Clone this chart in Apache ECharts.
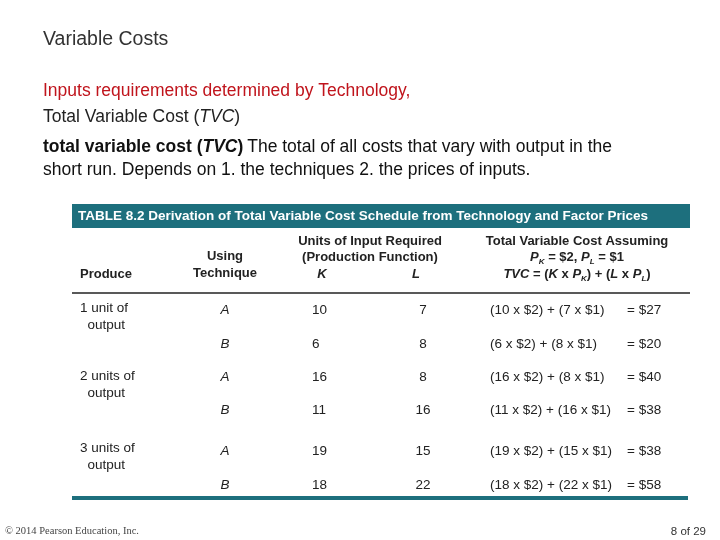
<!doctype html>
<html>
<head>
<meta charset="utf-8">
<title>Variable Costs</title>
<style>html,body{margin:0;padding:0;background:#fff}#main{width:720px;height:540px}</style>
</head>
<body>
<div id="main"></div>
<script src="https://cdn.jsdelivr.net/npm/echarts@6/dist/echarts.min.js"></script>
<script>
var chart = echarts.init(document.getElementById('main'));

var produce = ['1 unit of\n  output', '2 units of\n  output', '3 units of\n  output'];
var techniques = ['A', 'B', 'A', 'B', 'A', 'B'];
var kUnits = [10, 6, 16, 11, 19, 18];
var lUnits = [7, 8, 8, 16, 15, 22];
var pK = 2;
var pL = 1;
var totals = [27, 20, 40, 38, 38, 58];

var rowY = [310, 344, 377, 410, 451, 485];
var produceY = [308, 376, 448];
var font = '"Liberation Sans", Arial, sans-serif';
var teal = '#1d6f7d';

function txt(x, y, s, opt) {
    opt = opt || {};
    return {
        type: 'text', x: x, y: y,
        style: Object.assign({
            text: s, fill: opt.fill || '#222', font: (opt.font || '14px') + ' ' + font,
            align: opt.align || 'left', verticalAlign: 'middle', lineHeight: opt.lh || 17
        }, opt.rich ? { rich: opt.rich } : {})
    };
}

var g = [];
g.push(txt(43, 40, 'Variable Costs', { font: '19.5px', fill: '#333' }));
g.push(txt(43, 91, 'Inputs requirements determined by Technology,', { font: '17.5px', fill: '#c0141c' }));
g.push(txt(43, 117, '{a|Total Variable Cost (}{i|TVC}{a|)}', { rich: {
    a: { fill: '#222', font: '17.5px ' + font }, i: { fill: '#222', font: 'italic 17.5px ' + font } } }));
g.push(txt(43, 147, '{b|total variable cost (}{bi|TVC}{b|)} {a|The total of all costs that vary with output in the}', { rich: {
    b: { fill: '#111', font: 'bold 17.5px ' + font }, bi: { fill: '#111', font: 'italic bold 17.5px ' + font },
    a: { fill: '#111', font: '17.5px ' + font } } }));
g.push(txt(43, 170, 'short run. Depends on 1. the techniques 2. the prices of inputs.', { font: '17.5px', fill: '#111' }));

g.push({ type: 'rect', shape: { x: 72, y: 204, width: 618, height: 24 }, style: { fill: teal } });
g.push(txt(78, 216, 'TABLE 8.2 Derivation of Total Variable Cost Schedule from Technology and Factor Prices',
    { font: 'bold 13.5px', fill: '#fff' }));

var hb = 'bold 13px';
g.push(txt(80, 274, 'Produce', { font: hb }));
g.push(txt(225, 265, 'Using\nTechnique', { font: hb, align: 'center', lh: 17 }));
g.push(txt(370, 241, 'Units of Input Required', { font: hb, align: 'center' }));
g.push(txt(370, 257, '(Production Function)', { font: hb, align: 'center' }));
g.push(txt(322, 274, 'K', { font: 'italic bold 13px', align: 'center' }));
g.push(txt(416, 274, 'L', { font: 'italic bold 13px', align: 'center' }));
var rb = { a: { font: 'bold 13px ' + font, fill: '#222' }, i: { font: 'italic bold 13px ' + font, fill: '#222' },
    s: { font: 'italic bold 8px ' + font, fill: '#222', verticalAlign: 'bottom', padding: [6, 0, 0, 0] } };
g.push(txt(577, 241, 'Total Variable Cost Assuming', { font: hb, align: 'center' }));
g.push(txt(577, 257, '{i|P}{s|K}{a| = $2, }{i|P}{s|L}{a| = $1}', { align: 'center', rich: rb }));
g.push(txt(577, 274, '{i|TVC}{a| = (}{i|K}{a| x }{i|P}{s|K}{a|) + (}{i|L}{a| x }{i|P}{s|L}{a|)}', { align: 'center', rich: rb }));
g.push({ type: 'line', shape: { x1: 72, y1: 293, x2: 690, y2: 293 }, style: { stroke: '#222', lineWidth: 1.5 } });

produce.forEach(function (p, i) {
    g.push(txt(80, produceY[i] + 9, p, { font: '13.5px', lh: 17 }));
});
techniques.forEach(function (t, i) {
    var y = rowY[i];
    g.push(txt(225, y, t, { font: 'italic 13.5px', align: 'center' }));
    g.push(txt(312, y, String(kUnits[i]), { font: '13.5px' }));
    g.push(txt(423, y, String(lUnits[i]), { font: '13.5px', align: 'center' }));
    g.push(txt(490, y, '(' + kUnits[i] + ' x $' + pK + ') + (' + lUnits[i] + ' x $' + pL + ')', { font: '13.5px' }));
    g.push(txt(627, y, '= $' + totals[i], { font: '13.5px' }));
});

g.push({ type: 'rect', shape: { x: 72, y: 496, width: 616, height: 4 }, style: { fill: teal } });
g.push(txt(5, 531, '© 2014 Pearson Education, Inc.', { font: '10.5px "Liberation Serif",', fill: '#444' }));
g.push(txt(706, 532, '8 of 29', { font: '11.5px', fill: '#333', align: 'right' }));

chart.setOption({ graphic: g });
</script>
</body>
</html>
